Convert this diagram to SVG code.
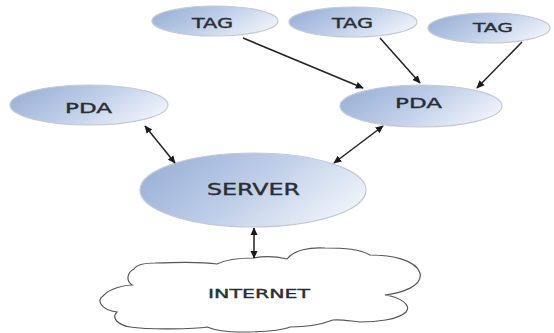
<svg xmlns="http://www.w3.org/2000/svg" width="554" height="333" viewBox="0 0 554 333">
<defs>
<linearGradient id="blue" x1="0" y1="0.3" x2="1" y2="0.7">
<stop offset="0" stop-color="#9ab1d7"/>
<stop offset="0.5" stop-color="#c1d0e9"/>
<stop offset="1" stop-color="#f1f5fb"/>
</linearGradient>
<marker id="ah" viewBox="0 0 10 10" refX="9" refY="5" markerWidth="8" markerHeight="8" markerUnits="userSpaceOnUse" orient="auto-start-reverse">
<path d="M0,0.5 L10,5 L0,9.5 Z" fill="#1a1a1a"/>
</marker>
<style>
.node{fill:url(#blue);stroke:#c4cad4;stroke-width:1.2}
.lbl{font-family:"DejaVu Sans","Liberation Sans",sans-serif;fill:#2a2e33;stroke:#2a2e33;stroke-width:0.35;text-anchor:middle}
.edge{stroke:#222;stroke-width:1.5;fill:none}
.one{marker-end:url(#ah)}
.two{marker-start:url(#ah);marker-end:url(#ah)}
.cloud{fill:#fff;stroke:#555;stroke-width:1.2}
</style>
</defs>
<rect width="554" height="333" fill="#fff"/>
<g id="tag1"><ellipse class="node" cx="215" cy="21" rx="63" ry="15"/><text class="lbl" x="212.5" y="28" font-size="13.5" textLength="41" lengthAdjust="spacingAndGlyphs">TAG</text></g>
<g id="tag2"><ellipse class="node" cx="353" cy="22" rx="64" ry="15"/><text class="lbl" x="352.5" y="28" font-size="13.5" textLength="41" lengthAdjust="spacingAndGlyphs">TAG</text></g>
<g id="tag3"><ellipse class="node" cx="489" cy="28" rx="61" ry="15"/><text class="lbl" x="493" y="32" font-size="13" textLength="40" lengthAdjust="spacingAndGlyphs">TAG</text></g>
<g id="pda-left"><ellipse class="node" cx="89" cy="105" rx="79" ry="20"/><text class="lbl" x="88.5" y="113" font-size="13.5" textLength="47" lengthAdjust="spacingAndGlyphs">PDA</text></g>
<g id="pda-right"><ellipse class="node" cx="421" cy="106" rx="81" ry="21"/><text class="lbl" x="418.5" y="108" font-size="14" textLength="47" lengthAdjust="spacingAndGlyphs">PDA</text></g>
<g id="server"><ellipse class="node" cx="253" cy="190" rx="113" ry="37"/><text class="lbl" x="253.5" y="195" font-size="15" textLength="93" lengthAdjust="spacingAndGlyphs">SERVER</text></g>
<g id="internet">
<path class="cloud" d="M253,258 Q270,255 287,259 C294,250 310,247 325,248 C345,248 360,249 370,255 C392,255 416,260 420,273 C423,286 402,293 385,295 C400,297 412,305 406,312 C398,320 375,322 360,322 C350,321 340,319 333,320 C320,325 305,327 290,327 C280,331 260,332 240,332 C225,332 212,329 207,327 C195,329 150,330 130,327 C118,325 111,318 117,312 C101,310 96,300 103,296 C110,288 125,285 132,285 C125,280 128,272 134,269 C137,264 145,263 155,263 C180,262 205,262 217,264 C225,260 240,258 253,258 Z"/>
<text class="lbl" x="259" y="298" font-size="12" textLength="102" lengthAdjust="spacingAndGlyphs">INTERNET</text>
</g>
<g id="connectors">
<line class="edge one" x1="243" y1="38" x2="363" y2="88"/>
<line class="edge one" x1="380" y1="38" x2="420" y2="83"/>
<line class="edge one" x1="522" y1="42" x2="477" y2="88"/>
<line class="edge two" x1="145" y1="126" x2="175" y2="163"/>
<line class="edge two" x1="383" y1="126" x2="334" y2="163"/>
<line class="edge two" x1="254" y1="228" x2="254" y2="258"/>
</g>
</svg>
